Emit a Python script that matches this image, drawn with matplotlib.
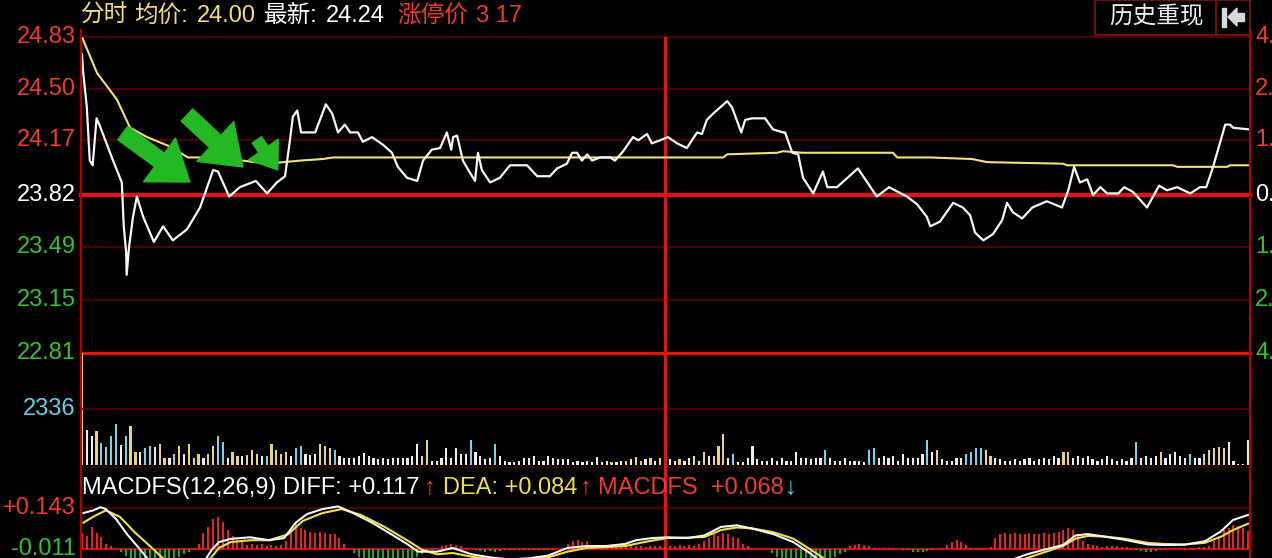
import numpy as np
import matplotlib.pyplot as plt
from matplotlib.patches import Rectangle, Polygon
from matplotlib.lines import Line2D

plt.rcParams['font.family'] = ['Liberation Sans', 'Noto Sans CJK SC']

# ---- price line (minute of session, price) ----
price_min = [0, 0.2, 1.0, 1.6, 2.2, 3.0, 3.7, 6.4, 8.2, 8.6,
             9.1, 9.2, 9.7, 10.5, 11.3, 12.6, 14.8, 16.7, 18.7, 21.6,
             24.3, 27.0, 28.0, 30.3, 32.5, 35.8, 38.1, 40.1, 41.8, 42.8,
             43.4, 44.3, 45.1, 48.0, 50.2, 51.5, 52.7, 54.1, 55.2, 56.8,
             57.8, 59.7, 62.0, 63.8, 65.0, 66.9, 69.0, 70.2, 72.0, 73.7,
             75.1, 76.0, 76.4, 77.2, 78.4, 79.9, 80.9, 81.3, 81.5, 82.3,
             84.0, 86.0, 88.1, 91.6, 93.7, 96.3, 97.8, 99.8, 100.9, 101.9,
             102.9, 104.0, 105.0, 106.6, 108.7, 109.7, 111.4, 113.4, 114.5, 116.3,
             117.3, 119.0, 120.6, 122.5, 124.5, 126.6, 127.6, 128.6, 129.9, 132.8,
             133.8, 135.7, 136.5, 137.9, 140.6, 142.2, 144.3, 144.7, 146.2, 147.4,
             148.4, 150.5, 151.5, 152.5, 153.4, 155.4, 159.7, 163.6, 166.1, 169.8,
             171.9, 173.9, 174.6, 176.6, 179.3, 181.3, 182.8, 183.8, 185.5, 187.5,
             189.4, 190.4, 191.6, 193.5, 195.6, 198.6, 201.7, 203.0, 204.2, 205.4,
             206.9, 208.1, 209.6, 211.0, 213.3, 214.5, 216.3, 219.2, 221.7, 223.3,
             225.4, 228.1, 230.1, 231.4, 232.8, 235.3, 236.3, 236.9, 240]
price_val = [24.72, 24.62, 24.38, 24.04, 24.01, 24.31, 24.26, 24.04, 23.90, 23.62,
             23.45, 23.31, 23.49, 23.68, 23.81, 23.68, 23.52, 23.62, 23.53, 23.60,
             23.74, 23.98, 23.97, 23.81, 23.87, 23.91, 23.83, 23.90, 23.94, 24.17,
             24.32, 24.36, 24.22, 24.22, 24.40, 24.34, 24.22, 24.27, 24.22, 24.22,
             24.16, 24.19, 24.14, 24.09, 24.00, 23.93, 23.91, 24.04, 24.11, 24.12,
             24.22, 24.11, 24.19, 24.20, 24.04, 23.96, 23.91, 24.03, 24.09, 23.98,
             23.90, 23.93, 24.01, 24.01, 23.94, 23.94, 23.99, 24.02, 24.09, 24.09,
             24.04, 24.08, 24.04, 24.06, 24.06, 24.04, 24.10, 24.19, 24.17, 24.21,
             24.15, 24.17, 24.19, 24.15, 24.12, 24.22, 24.21, 24.30, 24.34, 24.42,
             24.38, 24.22, 24.30, 24.31, 24.31, 24.24, 24.22, 24.22, 24.09, 24.08,
             23.93, 23.83, 23.90, 23.97, 23.87, 23.87, 23.99, 23.81, 23.87, 23.81,
             23.76, 23.68, 23.62, 23.65, 23.77, 23.74, 23.69, 23.58, 23.53, 23.57,
             23.66, 23.77, 23.71, 23.67, 23.74, 23.78, 23.74, 23.85, 24.00, 23.90,
             23.92, 23.82, 23.87, 23.83, 23.83, 23.87, 23.84, 23.74, 23.88, 23.85,
             23.87, 23.83, 23.87, 23.87, 24.00, 24.27, 24.27, 24.25, 24.24]

# ---- average price line ----
avg_min = [0, 3.1, 7.2, 9.9, 13.4, 18.1, 21.8, 27.0, 33.1, 38.1,
           44.9, 49.6, 51.7, 91.2, 119.6, 132.0, 132.8, 143.1, 144.3, 148.4,
           166.9, 167.8, 174.6, 183.2, 186.3, 201.9, 202.8, 224.6, 225.4, 235.7,
           236.3, 240]
avg_val = [24.83, 24.60, 24.43, 24.25, 24.19, 24.13, 24.06, 24.06, 24.04, 24.02,
           24.04, 24.05, 24.06, 24.06, 24.06, 24.06, 24.08, 24.09, 24.10, 24.09,
           24.09, 24.06, 24.06, 24.05, 24.03, 24.02, 24.01, 24.01, 24.00, 24.00,
           24.01, 24.01]

# ---- volume, one bar per minute (y=up, c=down, w=flat) ----
volume = [6800, 1470, 1218, 1400, 910, 742, 1218, 1722, 840, 1218,
          1638, 560, 560, 700, 798, 742, 882, 308, 308, 462,
          798, 462, 882, 308, 462, 308, 462, 798, 1218, 952,
          308, 560, 378, 378, 420, 630, 462, 378, 378, 882,
          630, 462, 560, 378, 700, 798, 462, 420, 462, 882,
          798, 700, 630, 378, 308, 308, 308, 378, 518, 378,
          308, 238, 308, 238, 308, 308, 308, 308, 378, 882,
          378, 1050, 182, 182, 308, 700, 308, 700, 462, 462,
          1050, 560, 378, 238, 308, 882, 378, 182, 126, 126,
          182, 308, 308, 378, 182, 182, 378, 308, 238, 238,
          238, 126, 182, 126, 182, 126, 350, 126, 182, 126,
          126, 182, 182, 238, 350, 182,
          238, 308, 182, 308, 378, 238, 182, 238, 182, 308,
          378, 182, 560, 378, 378, 798, 1302, 308, 462, 126,
          126, 308, 798, 238, 182, 182, 308, 182, 308, 182,
          182, 560, 308, 308, 238, 308, 308, 630, 308, 182,
          182, 308, 182, 182, 182, 126, 630, 700, 308, 378,
          308, 378, 182, 462, 308, 308, 308, 462, 1050, 560,
          630, 238, 182, 182, 308, 308, 462, 560, 700, 700,
          630, 378, 308, 238, 182, 182, 238, 182, 238, 308,
          182, 238, 308, 238, 378, 308, 560, 560, 308, 378,
          308, 378, 238, 182, 238, 378, 238, 182, 238, 182,
          308, 980, 308, 378, 308, 378, 560, 308, 462, 560,
          378, 308, 462, 308, 308, 462, 630, 700, 742, 700,
          980, 182, 56, 56, 1050]
vol_kind = ("ywwyccccwc" "yywccwyywc" "ywyyywyycc" "wyywyyywcy" "yyywccwwwy"
            "yycwwwwwww" "wwwwwwwwww" "yywwwwwwww" "cwwwwcwwww" "wwwwwwwwww"
            "wwwwwwwwwy" "wwywyy"
            "wywyywwyww" "ywywyyywcw" "wwwwwwwwww" "wwwwwwwcww" "wwwwwwccww"
            "wwwwwwwwcw" "ywwwwwcccc" "yywwwwwwww" "wwwwwwyyww" "wwwwwwwwww"
            "wcwwwwywww" "wwcwwyyyyy" "wwwww")

# ---- MACD ----
diff_min = [0.3, 2.3, 3.8, 4.9, 7.0, 9.3, 11.7, 14.0, 17.0, 21.0,
            23.0, 24.7, 26.7, 28.2, 30.6, 34.6, 38.5, 41.6, 44.0, 46.3,
            49.5, 52.7, 55.8, 59.7, 63.7, 66.9, 69.2, 73.1, 76.3, 80.2,
            84.2, 88.1, 92.0, 95.9, 99.9, 103.9, 107.8, 111.8, 114.0, 117.3,
            120.4, 124.7, 128.1, 131.5, 134.8, 138.1, 142.3, 146.4, 149.7, 153.0,
            158.0, 170.0, 180.0, 187.0, 190.4, 194.5, 198.6, 201.9, 204.5, 207.0,
            210.3, 214.5, 219.4, 222.7, 226.8, 231.1, 234.4, 236.9, 240]
diff_val = [0.124, 0.134, 0.146, 0.139, 0.102, 0.044, -0.007, -0.058, -0.090, -0.100,
            -0.090, -0.072, -0.014, 0.015, 0.027, 0.033, 0.022, 0.030, 0.088, 0.120,
            0.139, 0.149, 0.124, 0.088, 0.044, 0.008, -0.021, -0.021, -0.007, -0.031,
            -0.043, -0.050, -0.046, -0.036, -0.007, 0.000, 0.000, 0.008, 0.022, 0.030,
            0.033, 0.030, 0.040, 0.072, 0.078, 0.065, 0.045, 0.015, -0.025, -0.070,
            -0.100, -0.110, -0.100, -0.080, -0.058, -0.031, -0.011, 0.004, 0.040, 0.045,
            0.036, 0.024, 0.006, 0.004, 0.005, 0.018, 0.055, 0.098, 0.117]
dea_min = [0.3, 2.3, 4.9, 7.8, 10.9, 14.0, 16.5, 20.0, 23.0, 25.9,
           28.2, 30.6, 34.6, 38.5, 42.4, 45.5, 49.5, 53.5, 57.4, 62.2,
           66.9, 70.0, 73.1, 76.3, 80.2, 84.2, 88.1, 92.0, 95.9, 99.9,
           103.9, 107.8, 111.8, 115.7, 120.4, 124.7, 128.1, 131.5, 134.8, 138.1,
           142.3, 146.4, 149.7, 153.0, 158.0, 170.0, 180.0, 187.0, 190.4, 194.5,
           198.6, 201.9, 204.5, 207.0, 210.3, 214.5, 219.4, 222.7, 226.8, 231.1,
           234.4, 236.9, 240]
dea_val = [0.088, 0.110, 0.134, 0.110, 0.051, 0.000, -0.043, -0.080, -0.085, -0.058,
           -0.007, 0.015, 0.022, 0.022, 0.044, 0.095, 0.124, 0.139, 0.117, 0.073,
           0.022, -0.014, -0.031, -0.026, -0.040, -0.050, -0.055, -0.050, -0.043, -0.021,
           -0.007, -0.004, 0.000, 0.015, 0.030, 0.032, 0.034, 0.060, 0.070, 0.066,
           0.052, 0.028, -0.010, -0.050, -0.090, -0.110, -0.105, -0.090, -0.070, -0.045,
           -0.020, 0.000, 0.028, 0.038, 0.036, 0.028, 0.012, 0.008, 0.006, 0.012,
           0.035, 0.060, 0.084]
# histogram per minute, in thousandths, measured from the axis line
macd_milli = [60, 50, 84, 60, 45, 20, 10, 0,
              -10, -25, -40, -50, -55, -60, -60, -55, -60, -50, -45, -40, -30, -20, -10, -5,
              20, 60, 84, 113, 120, 100, 70, 50, 35, 25, 15,
              20, 15, 18, 12, 15, 10, 15,
              30, 66, 95, 80, 70, 65, 60, 65, 60, 55, 55, 40, 20, 5,
              -15, -30, -45, -55, -60, -60, -55, -60, -55, -50, -55, -45, -40, -30, -20, -10, -5,
              5, 10, 15, 18, 15, 10, 5, 0,
              -5, -8, -10, -8, -10, -8, -5, -3, -3, -5, -3, -3, -2, -3, -2, -2, -3, 0, 5,
              20, 30, 35, 25, 30, 15,
              10, 12, 8, 10, 12, 10, 8, 10, 12, 10, 8, 10, 12, 10, 8, 10, 10,
              15, 12, 15, 10, 20,
              30, 40, 55, 50, 60, 55, 45, 40, 20, 10, 5, 0, 0, 0,
              -15, -30, -45, -55, -60, -60, -55, -60, -55, -50, -55, -45, -40, -30, -20, -10,
              10, 15, 20, 15, 10, 5,
              3, 2, 3, 2, 0, -3, -5,
              -10, -12, -10, -8, -5,
              0, 3,
              15, 25, 33, 25, 15,
              5, 3, 5, 3, 8,
              40, 55, 60, 55, 60, 58, 55, 60, 58, 55, 60, 55, 60, 65, 70, 80, 70, 50, 30, 20, 15,
              10, 8, 10, 12, 10, 8, 6, 5,
              -3, -8, -12, -10, -8, -5,
              3, 4, 3, 5, 4, 3, 5, 6, 8, 12,
              30, 50, 70, 80, 90, 85, 80, 68]

price_ticks = [24.83, 24.50, 24.17, 23.82, 23.49, 23.15, 22.81]
pct_ticks = ['4.24%', '2.85%', '1.47%', '0.00%', '1.39%', '2.81%', '4.24%']

RED = '#f03a2e'
GREEN = '#30c430'
DARKRED = '#6a0000'
BRIGHT = '#d81818'
FS = 17

W, H = 1272, 558
fig = plt.figure(figsize=(W / 100, H / 100), dpi=100, facecolor='black')


def fx(px):
    return px / W


def fy(py):
    return 1 - py / H


def panel(top, bottom):
    ax = fig.add_axes([fx(81), fy(bottom), fx(1250) - fx(81), (bottom - top) / H])
    ax.set_axis_off()
    ax.set_xlim(-0.2, 240.4)
    return ax


# price panel
ax1 = panel(37, 353)
ax1.set_ylim(22.81, 24.83)
for v in price_ticks:
    if v == 23.82:
        ax1.axhline(v, color=BRIGHT, lw=3.2, clip_on=False)
    elif v == 22.81:
        ax1.axhline(v, color=BRIGHT, lw=2.4, clip_on=False)
    else:
        ax1.axhline(v, color=DARKRED, lw=1.1, clip_on=False)
ax1.axvline(120, color=BRIGHT, lw=2.2)
ax1.plot(avg_min, avg_val, color='#f2e27a', lw=1.5)
ax1.plot(price_min, price_val, color='#f6f6f6', lw=1.6)

# green annotation arrows
for tail, tip, ms in [((8.4, 24.216), (22.2, 23.903), 30),
                      ((21.6, 24.331), (33.1, 23.999), 30),
                      ((36.0, 24.172), (40.3, 23.980), 20)]:
    ax1.annotate('', xy=tip, xytext=tail,
                 arrowprops=dict(arrowstyle='simple,head_length=0.9,head_width=1.3,tail_width=0.4',
                                 color='#25b825', mutation_scale=ms, shrinkA=0, shrinkB=0))

# volume panel
ax2 = panel(353, 465)
ax2.set_ylim(0, 4672)
ax2.axhline(2336, color=DARKRED, lw=1.1)
ax2.axvline(120, color=BRIGHT, lw=2.2)
vcol = {'y': '#e8d674', 'c': '#74d6e8', 'w': '#eeeeee'}
ax2.bar(np.arange(len(volume)), volume, width=0.45,
        color=[vcol[k] for k in vol_kind], linewidth=0)

# MACD panel (0.143 sits at y=508px, -0.011 at y=549px)
ax3 = panel(465, 600)
s = (0.143 - (-0.011)) / (549 - 508)
ax3.set_ylim(-0.011 - (600 - 549) * s, 0.143 + (508 - 465) * s)
base = -0.011
ax3.axhline(0.143 + (508 - 467) * s, color='#4a0000', lw=1.0)
ax3.axhline(0.143, color=DARKRED, lw=1.1)
ax3.axhline(base, color='#c01010', lw=1.6)
ax3.axvline(120, color=BRIGHT, lw=2.2)
hist = np.array(macd_milli) / 1000
mins = np.arange(len(hist))
ax3.vlines(mins, base, base + hist,
           colors=np.where(hist >= 0, '#ff2a1a', '#22b822'), lw=1.3)
ax3.plot(dea_min, dea_val, color='#f0e040', lw=1.5)
ax3.plot(diff_min, diff_val, color='#f6f6f6', lw=1.5)

# frame lines
for x in (81, 1250):
    fig.add_artist(Line2D([fx(x), fx(x)], [fy(30), fy(558)], color='#b40000', lw=1.5))

# left / right tick labels (the right ones run off the edge, as in the source)
lab_col = [RED, RED, RED, 'white', GREEN, GREEN, GREEN]
for v, c, p in zip(price_ticks, lab_col, pct_ticks):
    py = 37 + (24.83 - v) / (24.83 - 22.81) * (353 - 37)
    fig.text(fx(76), fy(py), f'{v:.2f}', ha='right', va='center', color=c, fontsize=FS)
    fig.text(fx(1255), fy(py), p, ha='left', va='center', color=c, fontsize=FS)
fig.text(fx(76), fy(409), '2336', ha='right', va='center', color='#5fd3e6', fontsize=FS)
fig.text(fx(76), fy(508), '+0.143', ha='right', va='center', color=RED, fontsize=FS)
fig.text(fx(76), fy(549), '-0.011', ha='right', va='center', color=GREEN, fontsize=FS)

# header
for x, t, c in [(81, '分时', '#f0e070'), (134, '均价:', '#f0e070'), (197, '24.00', '#f0e070'),
                (264, '最新:', 'white'), (326, '24.24', 'white'),
                (397, '涨停价', RED), (476, '3 17', RED)]:
    fig.text(fx(x), fy(16), t, ha='left', va='center', color=c, fontsize=FS)

# history replay button
fig.add_artist(Rectangle((fx(1095), fy(35)), fx(1250) - fx(1095), fy(0) - fy(35),
                         fill=False, ec='#8a1010', lw=1.2))
fig.add_artist(Line2D([fx(1216), fx(1216)], [fy(0), fy(35)], color='#8a1010', lw=1.2))
fig.text(fx(1156), fy(17), '历史重现', ha='center', va='center', color='#eeeeee', fontsize=FS)
fig.add_artist(Rectangle((fx(1222), fy(27)), fx(4), fy(8) - fy(27), color='#d8d8d8'))
fig.add_artist(Polygon([(fx(1228), fy(17)), (fx(1237), fy(8)), (fx(1237), fy(26))],
                       closed=True, color='#d8d8d8'))
fig.add_artist(Rectangle((fx(1236), fy(21)), fx(8), fy(13) - fy(21), color='#d8d8d8'))

# MACD header
for x, t, c in [(82, 'MACDFS(12,26,9) DIFF: +0.117', 'white'), (424, '↑', RED),
                (443, 'DEA: +0.084', '#f0e040'), (580, '↑', RED),
                (598, 'MACDFS  +0.068', RED), (785, '↓', '#5fd3e6')]:
    fig.text(fx(x), fy(488), t, ha='left', va='center', color=c, fontsize=FS)

fig.savefig('out.png', dpi=100, facecolor='black')
